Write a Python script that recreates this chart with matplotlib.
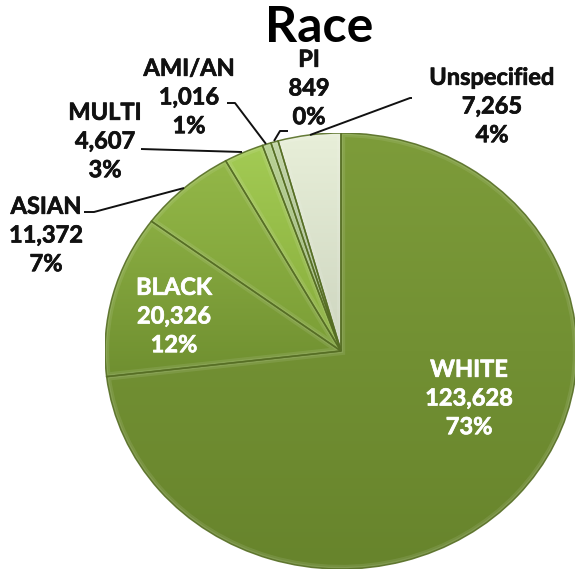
import numpy as np
import matplotlib
matplotlib.use("Agg")
import matplotlib.pyplot as plt
import matplotlib.patheffects as pe
from matplotlib.patches import Wedge
from matplotlib.colors import LinearSegmentedColormap

categories = ["WHITE", "BLACK", "ASIAN", "MULTI", "AMI/AN", "PI", "Unspecified"]
counts = [123628, 20326, 11372, 4607, 1016, 849, 7265]
percents = ["73%", "12%", "7%", "3%", "1%", "0%", "4%"]
# top and bottom colour of each slice
tops = ["#7d9c3a", "#8aad42", "#93b748", "#a3cb54", "#b3cf8c", "#bdd2a0", "#e8efd9"]
bottoms = ["#67842c", "#6f8f30", "#7b9e36", "#86ab3a", "#8fa96a", "#98ad80", "#cdd5bf"]

plt.rcParams["font.family"] = ["Lato", "DejaVu Sans"]
W, H = 575, 571
fig = plt.figure(figsize=(W / 100, H / 100), dpi=100)

# pie is stretched a bit wider than tall, like the 3d-ish excel one
cx, cy, rx, ry = 341, 351, 236, 218
ax = fig.add_axes([(cx - rx) / W, 1 - (cy + ry) / H, 2 * rx / W, 2 * ry / H])
wedges, _ = ax.pie(counts, startangle=90, counterclock=False, radius=1)
ax.set_aspect("auto")

for w, c1, c2 in zip(wedges, tops, bottoms):
    w.set_facecolor("none")
    w.set_edgecolor("none")
    cmap = LinearSegmentedColormap.from_list("g", [c2, c1])
    grad = np.linspace(0, 1, 256).reshape(-1, 1)
    # gradient runs over the height of this slice only
    bb = w.get_path().get_extents(w.get_patch_transform())
    im = ax.imshow(grad, cmap=cmap, origin="lower", extent=(bb.x0, bb.x1, bb.y0, bb.y1),
                   aspect="auto", zorder=1)
    im.set_clip_path(w)
    # light bevel inside the slice, then the dark seam on top
    bevel = Wedge(w.center, w.r, w.theta1, w.theta2, fill=False, ec="white", lw=6, alpha=0.09, zorder=2)
    ax.add_patch(bevel)
    bevel.set_clip_path(w)
    bevel2 = Wedge(w.center, w.r, w.theta1, w.theta2, fill=False, ec="white", lw=3, alpha=0.09, zorder=2)
    ax.add_patch(bevel2)
    bevel2.set_clip_path(w)
    ax.add_patch(Wedge(w.center, w.r, w.theta1, w.theta2, fill=False, ec="#566e24", lw=1.1, alpha=0.9, zorder=3))
ax.set_xlim(-1, 1)
ax.set_ylim(-1, 1)

# overlay in pixel coords for labels and leader lines
top = fig.add_axes([0, 0, 1, 1], facecolor="none")
top.set_xlim(0, W)
top.set_ylim(H, 0)
top.axis("off")

top.text(319, 28, "Race", ha="center", va="center", fontsize=36, fontweight="bold", color="black")

label_pos = [(469, 398), (174, 316), (46, 235), (105, 141), (189, 97), (309, 88), (492, 106)]
label_col = ["white", "white", "#111111", "#111111", "#111111", "#111111", "#111111"]
for name, n, p, (x, y), col in zip(categories, counts, percents, label_pos, label_col):
    top.text(x, y, f"{name}\n{n:,}\n{p}", ha="center", va="center", fontsize=17,
             fontweight="bold", color=col, linespacing=1.3,
             path_effects=[pe.withStroke(linewidth=0.5, foreground=col)])

leaders = [
    ([84, 94, 184], [212, 212, 188]),
    ([141, 242], [149, 152]),
    ([227, 235, 266], [103, 103, 144]),
    ([288, 280, 274], [131, 131, 141]),
    ([310, 410, 412], [135, 98, 98]),
]
for xs, ys in leaders:
    top.plot(xs, ys, color="#111111", lw=1.4, solid_capstyle="butt")

fig.savefig("out.png", dpi=100, facecolor="white")
